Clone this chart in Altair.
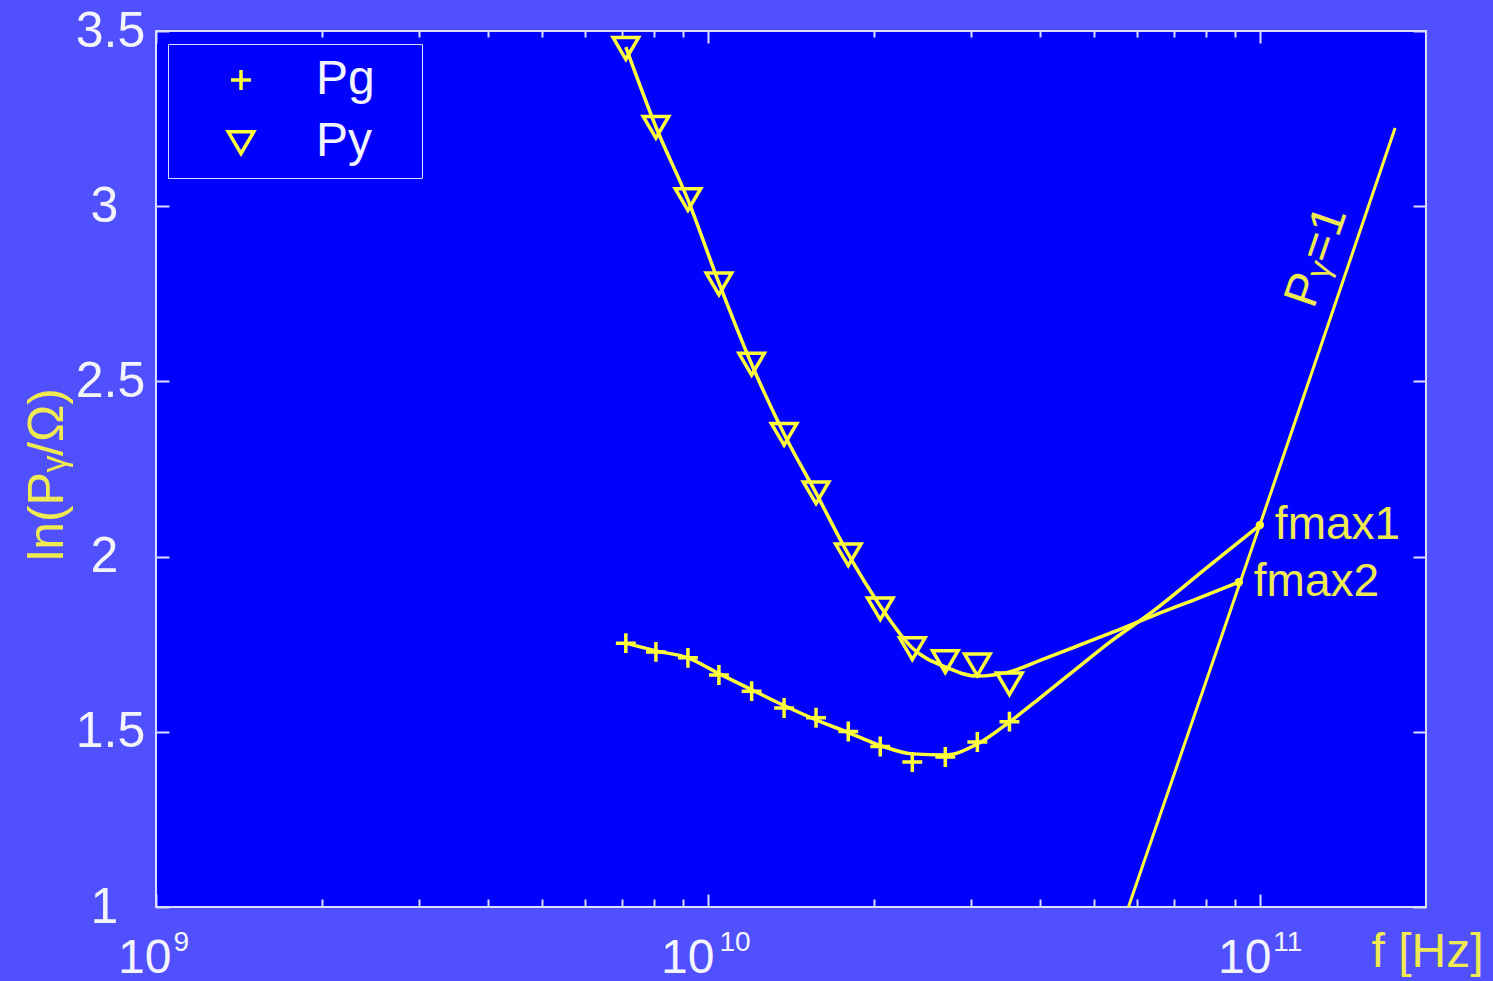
import altair as alt
import pandas as pd

# ---------------- data ----------------
freq_markers = [7.1e9, 8.05e9, 9.2e9, 1.047e10, 1.2e10, 1.374e10, 1.57e10,
                1.796e10, 2.052e10, 2.346e10, 2.692e10, 3.077e10, 3.518e10]
py_markers = [3.452, 3.227, 3.021, 2.780, 2.551, 2.351, 2.184,
              2.007, 1.853, 1.739, 1.702, 1.693, 1.639]
pg_markers = [1.753, 1.728, 1.711, 1.662, 1.616, 1.568, 1.540,
              1.501, 1.458, 1.414, 1.428, 1.471, 1.529]

py_fit_freq = freq_markers + [4.02e10, 4.62e10, 5.55e10, 6.45e10, 7.85e10, 9.16e10]
py_fit_vals = [3.454, 3.226, 3.018, 2.781, 2.549, 2.350, 2.181, 2.007, 1.859,
               1.739, 1.685, 1.659, 1.671, 1.705, 1.742, 1.791, 1.833, 1.885, 1.927]
pg_fit_freq = freq_markers + [4.02e10, 4.62e10, 5.32e10, 6.45e10, 8.08e10, 1.0e11]
pg_fit_vals = [1.753, 1.731, 1.711, 1.666, 1.620, 1.575, 1.534, 1.498, 1.461,
               1.437, 1.434, 1.465, 1.528, 1.600, 1.676, 1.753, 1.848, 1.973, 2.090]

p1_freq = [5.78e10, 1.0e11, 1.758e11]
p1_vals = [1.0, 2.09, 3.223]

fmax_freq = [1.0e11, 9.16e10]
fmax_vals = [2.09, 1.927]
fmax_labels = ["fmax1", "fmax2"]

p1_label = ["Pᵧ=1"]
p1_label_freq = [1.27e11]
p1_label_val = [2.855]

series_names = ["Pg", "Py"]

x_major = [1e9, 1e10, 1e11]
x_minor = [2e9, 3e9, 4e9, 5e9, 6e9, 7e9, 8e9, 9e9,
           2e10, 3e10, 4e10, 5e10, 6e10, 7e10, 8e10, 9e10]
y_ticks = [1, 1.5, 2, 2.5, 3, 3.5]

# ---------------- styling ----------------
FONT = "Liberation Sans"
YEL = "#ffff3a"
YEL2 = "#eeea50"
WHITE = "#f4f4ff"
AXC = "#dcdcff"
PLUS = "M-0.78,0H0.78M0,-0.78V0.78"
TRI_DOWN = "M-1,-0.8L1,-0.8L0,0.9Z"

df_py_fit = pd.DataFrame({"f": py_fit_freq, "v": py_fit_vals})
df_pg_fit = pd.DataFrame({"f": pg_fit_freq, "v": pg_fit_vals})
df_p1 = pd.DataFrame({"f": p1_freq, "v": p1_vals})
df_mk = pd.DataFrame({
    "f": freq_markers + freq_markers,
    "v": pg_markers + py_markers,
    "series": [series_names[0]] * len(freq_markers) + [series_names[1]] * len(freq_markers),
})
df_fmax = pd.DataFrame({"f": fmax_freq, "v": fmax_vals, "label": fmax_labels})
df_p1lab = pd.DataFrame({"f": p1_label_freq, "v": p1_label_val, "label": p1_label})

xs = alt.Scale(type="log", domain=[1e9, 2e11], nice=False)
ys = alt.Scale(domain=[1, 3.5], nice=False, zero=False)

common = dict(grid=False, domain=False, tickColor=AXC, tickWidth=2,
              labelFlush=False, labelOverlap=False)

ax_bottom_major = alt.Axis(
    orient="bottom", values=x_major, offset=-13, tickSize=13,
    labelExpr="'10'", labelFontSize=48, labelColor=WHITE,
    labelAlign="right", labelBaseline="top", labelPadding=27,
    labelOffset={"condition": [{"test": "datum.value < 5e9", "value": 15},
                               {"test": "datum.value < 5e10", "value": 6}],
                 "value": 11},
    title="f [Hz]", titleColor=YEL2, titleFontSize=48, titleX=1271, titleY=58,
    titleAlign="center", titleBaseline="middle", **common,
)
ax_bottom_minor = alt.Axis(
    orient="bottom", values=x_minor, offset=-8, tickSize=8, labels=False,
    title=None, **common,
)
ax_exp = alt.Axis(
    orient="bottom", values=x_major, ticks=False,
    labelExpr="format(round(log(datum.value)/LN10), 'd')", labelFontSize=28,
    labelColor=WHITE, labelAlign="left", labelBaseline="top", labelPadding=21,
    labelOffset={"condition": [{"test": "datum.value < 5e9", "value": 17},
                               {"test": "datum.value < 5e10", "value": 11}],
                 "value": 13},
    title=None, **common,
)
ax_top_major = alt.Axis(orient="top", values=x_major, offset=-12, tickSize=12,
                        labels=False, title=None, **common)
ax_top_minor = alt.Axis(orient="top", values=x_minor, offset=-6, tickSize=6,
                        labels=False, title=None, **common)
ax_left = alt.Axis(
    orient="left", values=y_ticks, format="~g", offset=-13, tickSize=13,
    labelFontSize=50, labelColor=WHITE, labelAlign="center", labelBaseline="middle",
    labelPadding={"condition": {"test": "datum.value % 1 == 0", "value": 52}, "value": 46},
    title="ln(Pᵧ/Ω)", titleColor=YEL2, titleFontSize=50, titleX=-122, titleY=443,
    titleAngle=270, titleAlign="center", titleBaseline="middle", **common,
)
ax_right = alt.Axis(orient="right", values=y_ticks, offset=-13, tickSize=13,
                    labels=False, title=None, **common)

py_line = alt.Chart(df_py_fit).mark_line(
    color=YEL, strokeWidth=3.5, interpolate="monotone"
).encode(
    x=alt.X("f:Q", scale=xs, axis=ax_bottom_major),
    y=alt.Y("v:Q", scale=ys, axis=ax_left),
)
pg_line = alt.Chart(df_pg_fit).mark_line(
    color=YEL, strokeWidth=3.5, interpolate="monotone"
).encode(
    x=alt.X("f:Q", scale=xs, axis=ax_top_major),
    y=alt.Y("v:Q", scale=ys, axis=ax_right),
)
p1_line = alt.Chart(df_p1).mark_line(color=YEL, strokeWidth=3).encode(
    x=alt.X("f:Q", scale=xs, axis=ax_exp),
    y=alt.Y("v:Q", scale=ys, axis=None),
)

markers = alt.Chart(df_mk).mark_point(
    filled=False, strokeWidth=3.5, color=YEL, opacity=1, size=650
).encode(
    x=alt.X("f:Q", scale=xs, axis=ax_bottom_minor),
    y=alt.Y("v:Q", scale=ys, axis=None),
    shape=alt.Shape(
        "series:N",
        scale=alt.Scale(domain=series_names, range=[PLUS, TRI_DOWN]),
        legend=alt.Legend(
            orient="none", legendX=12, legendY=13, title=None, padding=12,
            fillColor="#0000ff", strokeColor=AXC,
            labelFont=FONT, labelFontSize=48, labelColor=WHITE,
            labelExpr="datum.label + '\u2800'",
            symbolStrokeColor=YEL, symbolStrokeWidth=3.5, symbolSize=650,
            symbolFillColor="transparent",
            symbolOffset=37, labelOffset=51, rowPadding=14,
        ),
    ),
)

fmax_dots = alt.Chart(df_fmax).mark_point(
    filled=True, shape="circle", size=70, color=YEL, opacity=1
).encode(
    x=alt.X("f:Q", scale=xs, axis=ax_top_minor),
    y=alt.Y("v:Q", scale=ys, axis=None),
)
fmax_text = alt.Chart(df_fmax).mark_text(
    align="left", baseline="middle", dx=15, fontSize=46, color=YEL2, font=FONT
).encode(
    x=alt.X("f:Q", scale=xs, axis=None),
    y=alt.Y("v:Q", scale=ys, axis=None),
    text="label:N",
)
p1_text = alt.Chart(df_p1lab).mark_text(
    align="center", baseline="middle", angle=289, fontSize=48, color=YEL2, font=FONT
).encode(
    x=alt.X("f:Q", scale=xs, axis=None),
    y=alt.Y("v:Q", scale=ys, axis=None),
    text="label:N",
)

chart = alt.layer(
    py_line, pg_line, p1_line, markers, fmax_dots, fmax_text, p1_text
).resolve_axis(
    x="independent", y="independent"
).properties(
    width=1270, height=876,
    autosize=alt.AutoSizeParams(type="none"),
    padding={"left": 156, "top": 31, "right": 67, "bottom": 74},
).configure(
    background="#5050ff"
).configure_view(
    fill="#0000ff", stroke=AXC, strokeWidth=2
).configure_axis(
    labelFont=FONT, titleFont=FONT, titleFontWeight="normal"
)

chart.save("out.html", embed_options={"renderer": "svg", "actions": False})
